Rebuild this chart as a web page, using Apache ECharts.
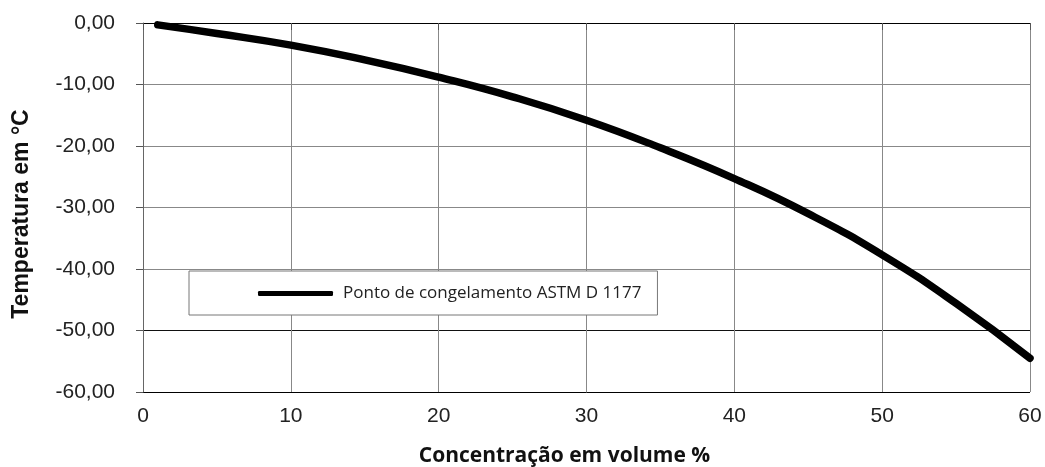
<!DOCTYPE html>
<html>
<head>
<meta charset="utf-8">
<script src="https://cdn.jsdelivr.net/npm/echarts@6/dist/echarts.min.js"></script>
<style>
html,body{margin:0;padding:0;background:#fff;}
#chart{width:1045px;height:467px;}
</style>
</head>
<body>
<div id="chart"></div>
<script>
// Concentration (vol %) and freezing point (°C)
const concentracao = [1, 5, 10, 15, 20, 25, 30, 35, 40, 45, 50, 55, 60];
const temperatura = [-0.3, -1.7, -3.6, -6.0, -8.8, -12.0, -15.8, -20.3, -25.3, -31.0, -37.7, -45.6, -54.5];
const seriesName = 'Ponto de congelamento ASTM D 1177';
const xTitle = 'Concentração em volume %';
const yTitle = 'Temperatura em °C';

const data = concentracao.map((c, i) => [c, temperatura[i]]);

const chart = echarts.init(document.getElementById('chart'), null, {renderer: 'canvas'});
chart.setOption({
  animation: false,
  backgroundColor: '#fff',
  grid: {left: 143, right: 15, top: 23, bottom: 75, containLabel: false, outerBoundsMode: 'none'},
  legend: {
    left: 189, top: 271,
    padding: [14, 16, 13, 69],
    backgroundColor: '#fff',
    borderColor: '#777', borderWidth: 1,
    itemWidth: 75, itemHeight: 5,
    icon: 'roundRect',
    itemStyle: {color: '#000'},
    textStyle: {fontFamily: 'Open Sans', fontSize: 17, color: '#222', padding: [0, 0, 0, 5]},
    data: [seriesName]
  },
  xAxis: {
    type: 'value', min: 0, max: 60, interval: 10,
    name: xTitle, nameLocation: 'middle', nameGap: 54,
    nameTextStyle: {fontFamily: 'Open Sans', fontWeight: 'bold', fontSize: 21, color: '#111', padding: [0, 44, 0, 0]},
    axisLine: {show: true, lineStyle: {color: '#000', width: 1}},
    axisTick: {show: true, inside: false, length: 7, lineStyle: {color: '#555'}},
    axisLabel: {fontFamily: 'Liberation Sans', fontSize: 21, color: '#222', margin: 14},
    splitLine: {show: true, lineStyle: {color: '#888', width: 1}}
  },
  yAxis: {
    type: 'value', min: -60, max: 0, interval: 10,
    name: yTitle, nameLocation: 'middle', nameGap: 110, nameRotate: 90,
    nameTextStyle: {fontFamily: 'Liberation Sans', fontWeight: 'bold', fontSize: 23, color: '#111', padding: [0, 13, 0, 0]},
    axisLine: {show: true, onZero: false, lineStyle: {color: '#666', width: 1}},
    axisTick: {show: true, inside: false, length: 7, lineStyle: {color: '#555'}},
    axisLabel: {fontFamily: 'Liberation Sans', fontSize: 21, color: '#222', margin: 28,
      formatter: v => v.toFixed(2).replace('.', ',')},
    splitLine: {show: true, lineStyle: {color: ['#000', '#111', '#888', '#888', '#888', '#888', '#888'], width: 1}}
  },
  series: [{
    name: seriesName,
    type: 'line',
    data: data,
    smooth: 0.5,
    symbol: 'none',
    lineStyle: {color: '#000', width: 7.5, cap: 'round'},
    itemStyle: {color: '#000'}
  }]
});
</script>
</body>
</html>
